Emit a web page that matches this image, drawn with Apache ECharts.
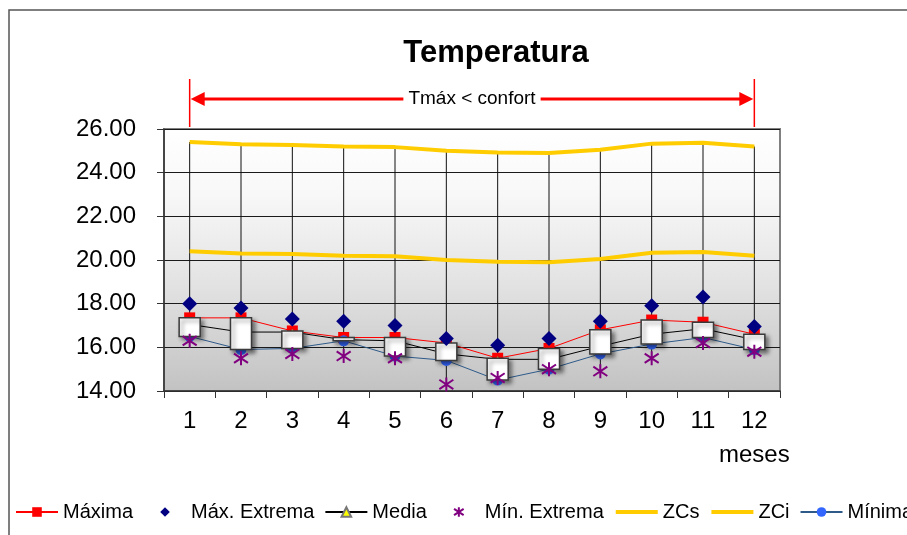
<!DOCTYPE html>
<html>
<head>
<meta charset="utf-8">
<title>Temperatura</title>
<script src="https://cdn.jsdelivr.net/npm/echarts@6/dist/echarts.min.js"></script>
<style>
  html, body { margin: 0; padding: 0; background: #fff; }
  #chart { width: 907px; height: 535px; }
</style>
</head>
<body>
<div id="chart"></div>
<script>
// datos
const meses = ["1", "2", "3", "4", "5", "6", "7", "8", "9", "10", "11", "12"];
const maxima = [17.35, 17.35, 16.75, 16.45, 16.45, 16.2, 15.5, 15.95, 16.8, 17.25, 17.15, 16.6];
const maxExtrema = [18.0, 17.8, 17.3, 17.2, 17.0, 16.4, 16.1, 16.4, 17.2, 17.9, 18.3, 16.95];
const media = [17.05, 16.7, 16.7, 16.35, 16.3, 15.7, 15.45, 15.45, 16.05, 16.6, 16.85, 16.35];
const minExtrema = [16.3, 15.5, 15.7, 15.6, 15.5, 14.3, 14.6, 15.0, 14.9, 15.5, 16.2, 15.8];
const zcs = [25.4, 25.3, 25.27, 25.2, 25.17, 25.0, 24.92, 24.9, 25.05, 25.33, 25.37, 25.2];
const zci = [20.4, 20.3, 20.28, 20.2, 20.17, 20.0, 19.92, 19.9, 20.05, 20.33, 20.37, 20.2];
const minima = [16.5, 15.9, 15.95, 16.3, 15.6, 15.4, 14.5, 15.0, 15.7, 16.15, 16.45, 15.9];
const yTicks = [14, 16, 18, 20, 22, 24, 26];

const FONT = "Liberation Sans";

// lineas max-min (como grafico de cotizaciones)
const hiLo = meses.map((m, i) => [
  i,
  Math.max(zcs[i], maxExtrema[i]),
  Math.min(minExtrema[i], minima[i], maxima[i], media[i]),
]);
// barras entre Maxima (apertura) y Minima (cierre)
const cajas = meses.map((m, i) => [i, maxima[i], minima[i]]);

const chart = echarts.init(document.getElementById("chart"));

const asterisco = "path://M6,0L6,12M1,2L11,10M1,10L11,2";

var option = {
  animation: false,
  title: {
    text: "Temperatura",
    left: 491,
    top: 33,
    textAlign: "center",
    textStyle: { fontFamily: FONT, fontSize: 31, fontWeight: "bold", color: "#000" },
  },
  legend: {
    left: 15,
    top: 502,
    width: 1200,
    padding: 0,
    itemWidth: 42,
    itemHeight: 12,
    itemGap: 10,
    textStyle: { fontFamily: FONT, fontSize: 20, color: "#000" },
    data: [
      "Máxima",
      "Máx. Extrema",
      "Media",
      "Mín. Extrema",
      { name: "ZCs", itemStyle: { opacity: 0 }, lineStyle: { width: 4 } },
      { name: "ZCi", itemStyle: { opacity: 0 }, lineStyle: { width: 4 } },
      "Mínima",
    ],
  },
  grid: {
    left: 164,
    right: 127,
    top: 129,
    bottom: 144,
    show: true,
    borderColor: "#808080",
    borderWidth: 2,
    outerBoundsMode: "none",
    backgroundColor: new echarts.graphic.LinearGradient(0, 0, 0, 1, [
      { offset: 0, color: "#ffffff" },
      { offset: 0.25, color: "#f8f8f8" },
      { offset: 0.6, color: "#e2e2e2" },
      { offset: 1, color: "#c2c2c2" },
    ]),
  },
  xAxis: {
    type: "category",
    data: meses,
    boundaryGap: true,
    axisLine: { lineStyle: { color: "#333", width: 1.5 } },
    axisTick: { show: true, length: 7, lineStyle: { color: "#333" } },
    axisLabel: { fontFamily: FONT, fontSize: 24, color: "#000", margin: 18 },
    splitLine: { show: false },
  },
  yAxis: {
    type: "value",
    min: yTicks[0],
    max: yTicks[yTicks.length - 1],
    interval: 2,
    axisLine: { show: true, lineStyle: { color: "#333", width: 1.5 } },
    axisTick: { show: true, length: 7, lineStyle: { color: "#333" } },
    axisLabel: {
      fontFamily: FONT,
      fontSize: 24,
      color: "#000",
      margin: 28,
      formatter: (v) => v.toFixed(2),
    },
    splitLine: { show: true, lineStyle: { color: "#1a1a1a", width: 1 } },
  },
  series: [
    {
      type: "custom",
      z: 1,
      silent: true,
      data: hiLo,
      encode: { x: 0, y: [1, 2] },
      renderItem: function (params, api) {
        const p1 = api.coord([api.value(0), api.value(1)]);
        const p2 = api.coord([api.value(0), api.value(2)]);
        return {
          type: "line",
          shape: { x1: p1[0], y1: p1[1], x2: p2[0], y2: p2[1] },
          style: { stroke: "#111", lineWidth: 1 },
        };
      },
    },
    {
      name: "Máxima",
      type: "line",
      z: 2,
      data: maxima,
      symbol: "rect",
      symbolSize: 11,
      lineStyle: { color: "#ff0000", width: 1 },
      itemStyle: { color: "#ff0000" },
    },
    {
      name: "Media",
      type: "line",
      z: 2,
      data: media,
      symbol: "triangle",
      symbolSize: 6,
      lineStyle: { color: "#000", width: 1 },
      itemStyle: { color: "#ffff00", borderColor: "#777", borderWidth: 0.5 },
    },
    {
      name: "Mínima",
      type: "line",
      z: 2,
      data: minima,
      symbol: "circle",
      symbolSize: 11,
      lineStyle: { color: "#2e5a8a", width: 1 },
      itemStyle: { color: "#3366ff" },
    },
    {
      type: "custom",
      z: 3,
      silent: true,
      data: cajas,
      encode: { x: 0, y: [1, 2] },
      renderItem: function (params, api) {
        const top = api.coord([api.value(0), Math.max(api.value(1), api.value(2))]);
        const bot = api.coord([api.value(0), Math.min(api.value(1), api.value(2))]);
        const w = api.size([1, 0])[0] * 0.41;
        return {
          type: "rect",
          shape: { x: top[0] - w / 2, y: top[1], width: w, height: Math.max(bot[1] - top[1], 2) },
          style: {
            fill: "#fff",
            stroke: "#3a3a3a",
            lineWidth: 1.5,
            shadowBlur: 4,
            shadowOffsetX: 3,
            shadowOffsetY: 3,
            shadowColor: "rgba(0,0,0,0.45)",
          },
        };
      },
    },
    {
      name: "ZCs",
      type: "line",
      z: 4,
      data: zcs,
      symbol: "none",
      lineStyle: { color: "#ffcc00", width: 4 },
      itemStyle: { color: "#ffcc00" },
    },
    {
      name: "ZCi",
      type: "line",
      z: 4,
      data: zci,
      symbol: "none",
      lineStyle: { color: "#ffcc00", width: 4 },
      itemStyle: { color: "#ffcc00" },
    },
    {
      name: "Máx. Extrema",
      type: "line",
      z: 5,
      data: maxExtrema,
      symbol: "diamond",
      symbolSize: 15,
      lineStyle: { opacity: 0 },
      itemStyle: { color: "#000080" },
    },
    {
      name: "Mín. Extrema",
      type: "line",
      z: 5,
      data: minExtrema,
      symbol: asterisco,
      symbolSize: 14,
      lineStyle: { opacity: 0 },
      itemStyle: { color: "#800080", borderColor: "#800080", borderWidth: 2 },
    },
  ],
};

chart.setOption(option);

// anotaciones: flecha Tmax < confort, marco y etiqueta "meses"
const x1 = chart.convertToPixel({ xAxisIndex: 0 }, meses[0]);
const x12 = chart.convertToPixel({ xAxisIndex: 0 }, meses[meses.length - 1]);
const yFlecha = 99;
chart.setOption({
  graphic: [
    {
      type: "rect",
      shape: { x: 9, y: 10, width: 1000, height: 1000 },
      style: { fill: "none", stroke: "#555", lineWidth: 1.5 },
      silent: true,
    },
    { type: "line", shape: { x1: x1, y1: 79, x2: x1, y2: 127 }, style: { stroke: "#ff0000", lineWidth: 1.5 } },
    { type: "line", shape: { x1: x12, y1: 79, x2: x12, y2: 127 }, style: { stroke: "#ff0000", lineWidth: 1.5 } },
    { type: "line", shape: { x1: x1 + 10, y1: yFlecha, x2: x12 - 10, y2: yFlecha }, style: { stroke: "#ff0000", lineWidth: 3 } },
    {
      type: "polygon",
      shape: { points: [[x1 + 1, yFlecha], [x1 + 15, yFlecha - 7], [x1 + 15, yFlecha + 7]] },
      style: { fill: "#ff0000" },
    },
    {
      type: "polygon",
      shape: { points: [[x12 - 1, yFlecha], [x12 - 15, yFlecha - 7], [x12 - 15, yFlecha + 7]] },
      style: { fill: "#ff0000" },
    },
    {
      type: "text",
      x: (x1 + x12) / 2,
      y: yFlecha,
      style: {
        text: "Tmáx < confort",
        fontFamily: FONT,
        fontSize: 19,
        fill: "#000",
        align: "center",
        verticalAlign: "middle",
        backgroundColor: "#fff",
        padding: [2, 5],
      },
    },
    {
      type: "text",
      x: x12,
      y: 455,
      style: {
        text: "meses",
        fontFamily: FONT,
        fontSize: 24,
        fill: "#000",
        align: "center",
        verticalAlign: "middle",
      },
    },
  ],
});
</script>
</body>
</html>
